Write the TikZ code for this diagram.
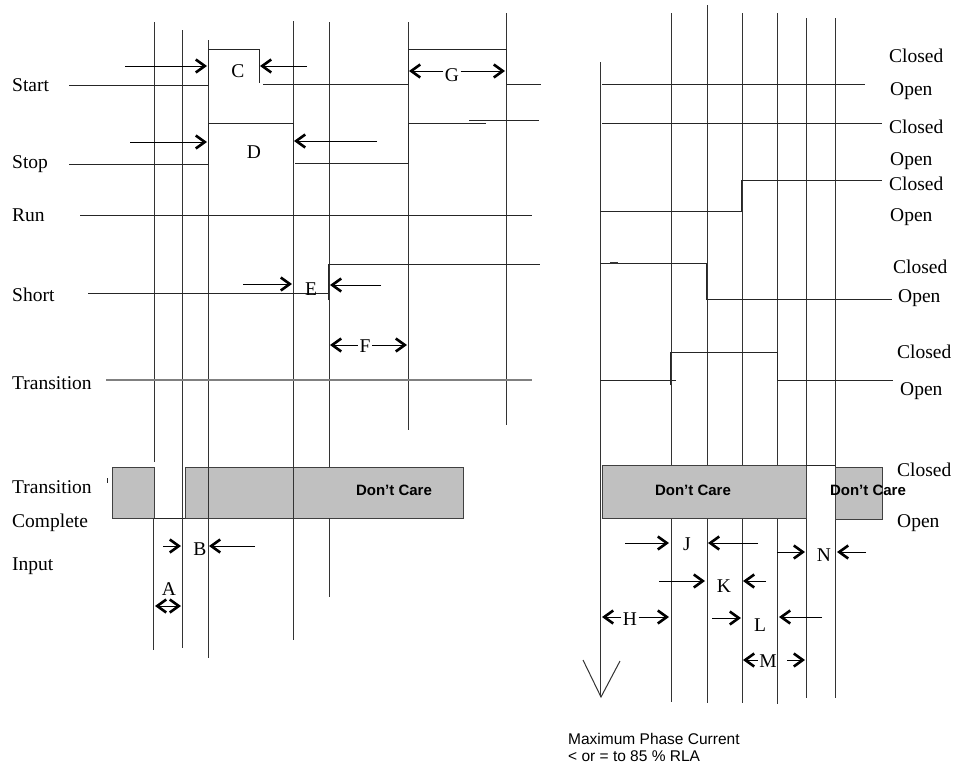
\documentclass[tikz,border=0pt]{standalone}
\usepackage{fontspec}
\setmainfont{Liberation Serif}
\setsansfont{Liberation Sans}
\usetikzlibrary{arrows.meta}
\definecolor{CareGris}{HTML}{C0C0C0}
\definecolor{LineaGris}{HTML}{808080}

\begin{document}
\begin{tikzpicture}[x=1pt, y=-1pt,
    senal/.style={line width=1pt, draw=black!85},
    tiempo/.style={line width=1pt, draw=black!80},
    punta/.style={-{Straight Barb[length=9pt, width=13pt, line width=2.6pt]}, line width=1pt},
    puntados/.style={{Straight Barb[length=9pt, width=13pt, line width=2.6pt]}-{Straight Barb[length=9pt, width=13pt, line width=2.6pt]}, line width=1pt},
    etiqueta/.style={inner sep=0pt, font=\fontsize{19.5}{22}\selectfont},
    letra/.style={inner sep=1.5pt, font=\fontsize{19.5}{22}\selectfont},
    caja/.style={fill=CareGris, draw=black!75, line width=1pt},
    nocare/.style={inner sep=0pt, font=\sffamily\bfseries\fontsize{15}{18}\selectfont}
  ]
  \useasboundingbox (0,0) rectangle (953,763);

  % left: Transition Complete box (under the time lines)
  \draw[tiempo] (329,22) -- (329,467);
  \draw[caja] (112,467) rectangle (154,518);
  \draw[caja] (185,467) rectangle (463,518);
  \draw[senal] (154,518) -- (185,518);
  \draw[senal] (107,478) -- (107,483);
  \node[nocare] (dcA) at (394,490) {Don't Care};

  % left time lines
  \draw[tiempo] (154,22) -- (154,462);
  \draw[tiempo] (153,518) -- (153,650);
  \foreach \x/\a/\b in {182/30/648, 208/40/658, 293/21/640, 408/22/430, 506/13/425}
    \draw[tiempo] (\x,\a) -- (\x,\b);
  \draw[tiempo] (329,518) -- (329,597);

  % left signals
  \draw[senal] (69,85) -- (208,85) -- (208,49) -- (259,49) -- (259,83);
  \draw[senal] (263,84) -- (408,84) -- (408,49) -- (506,49) -- (506,84) -- (541,84);
  \draw[senal] (69,164) -- (208,164) -- (208,123) -- (293,123) -- (293,163);
  \draw[senal] (295,163) -- (408,163) -- (408,123) -- (486,123);
  \draw[senal] (469,120) -- (539,120);
  \draw[senal] (80,215) -- (532,215);
  \draw[senal] (88,293) -- (328,293);
  \draw[senal] (328,300) -- (328,264) -- (540,264);
  \draw[line width=1.3pt, LineaGris] (106,380) -- (532,380);

  % left labels
  \node[etiqueta, anchor=base west] (start) at (12,91) {Start};
  \node[etiqueta, anchor=base west] (stop) at (12,168) {Stop};
  \node[etiqueta, anchor=base west] (run) at (12,221) {Run};
  \node[etiqueta, anchor=base west] (short) at (12,301) {Short};
  \node[etiqueta, anchor=base west] (trans) at (12,389) {Transition};
  \node[etiqueta, anchor=base west] (tcA) at (12,493) {Transition};
  \node[etiqueta, anchor=base west] (tcB) at (12,527) {Complete};
  \node[etiqueta, anchor=base west] (tcC) at (12,570) {Input};

  % left intervals
  \node[letra, anchor=base] (C) at (238,77) {C};
  \draw[punta] (125,66) -- (207,66);
  \draw[punta] (307,66) -- (260,66);
  \node[letra, anchor=base] (D) at (254,158) {D};
  \draw[punta] (130,142) -- (207,142);
  \draw[punta] (377,141) -- (294,141);
  \node[letra, anchor=base] (G) at (452,81) {G};
  \draw[punta] (G.west |- 0,71) -- (409,71);
  \draw[punta] (G.east |- 0,71) -- (505,71);
  \node[letra, anchor=base] (E) at (311,295) {E};
  \draw[punta] (243,284) -- (292,284);
  \draw[punta] (381,285) -- (330,285);
  \node[letra, anchor=base] (F) at (365,352) {F};
  \draw[punta] (F.west |- 0,345) -- (330,345);
  \draw[punta] (F.east |- 0,345) -- (407,345);
  \node[letra, anchor=base] (B) at (200,555) {B};
  \draw[punta] (163,546) -- (181,546);
  \draw[punta] (255,546) -- (209,546);
  \node[letra, anchor=base] (A) at (169,595) {A};
  \draw[puntados] (155,606) -- (181,606);

  % right time lines
  \foreach \x/\a/\b in {600/62/697, 671/13/702, 707/5/703, 742/13/703, 777/13/704, 806/18/698, 835/18/698}
    \draw[tiempo] (\x,\a) -- (\x,\b);
  \draw[tiempo] (583,660) -- (601,697) -- (620,661);

  % right signals
  \draw[senal] (602,84) -- (865,84);
  \draw[senal] (602,123) -- (882,123);
  \draw[senal] (600,211) -- (741,211) -- (741,180) -- (882,180);
  \draw[senal] (600,263) -- (706,263) -- (706,299) -- (892,299);
  \draw[line width=2pt, black!80] (610,263) -- (618,263);
  \draw[senal] (600,380) -- (676,380);
  \draw[senal] (670,385) -- (670,352) -- (777,352) -- (777,380) -- (893,380);

  % right Transition Complete boxes
  \draw[caja] (602,465) rectangle (806,518);
  \draw[senal] (806,465) -- (835,465);
  \draw[caja] (835,467) rectangle (882,519);
  \node[nocare] (dcB) at (693,490) {Don't Care};
  \node[nocare] (dcC) at (868,490) {Don't Care};

  % Closed / Open levels
  \foreach \n/\xc/\yc/\xo/\yo in {1/889/62/890/95, 2/889/133/890/165, 3/889/190/890/221,
                                  4/893/273/898/302, 5/897/358/900/395, 6/897/476/897/527} {
    \node[etiqueta, anchor=base west] (cerrado\n) at (\xc,\yc) {Closed};
    \node[etiqueta, anchor=base west] (abierto\n) at (\xo,\yo) {Open};
  }

  % right intervals
  \node[letra, anchor=base] (J) at (687,550) {J};
  \draw[punta] (625,543) -- (669,543);
  \draw[punta] (758,543) -- (708,543);
  \node[letra, anchor=base] (N) at (824,561) {N};
  \draw[punta] (777,552) -- (805,552);
  \draw[punta] (866,552) -- (837,552);
  \node[letra, anchor=base] (K) at (724,592) {K};
  \draw[punta] (659,581) -- (705,581);
  \draw[punta] (766,581) -- (743,581);
  \node[letra, anchor=base] (H) at (630,625) {H};
  \draw[punta] (H.west |- 0,617) -- (602,617);
  \draw[punta] (H.east |- 0,617) -- (669,617);
  \node[letra, anchor=base] (L) at (760,631) {L};
  \draw[punta] (712,618) -- (741,618);
  \draw[punta] (822,617) -- (779,617);
  \node[letra, anchor=base] (M) at (768,667) {M};
  \draw[punta] (M.west |- 0,660) -- (743,660);
  \draw[punta] (787,660) -- (805,660);

  % note under the current arrow
  \node[inner sep=0pt, anchor=base west, align=left, font=\sffamily\fontsize{15.5}{16.5}\selectfont]
    (nota) at (568,761) {Maximum Phase Current\\< or = to 85 \% RLA};
\end{tikzpicture}
\end{document}
